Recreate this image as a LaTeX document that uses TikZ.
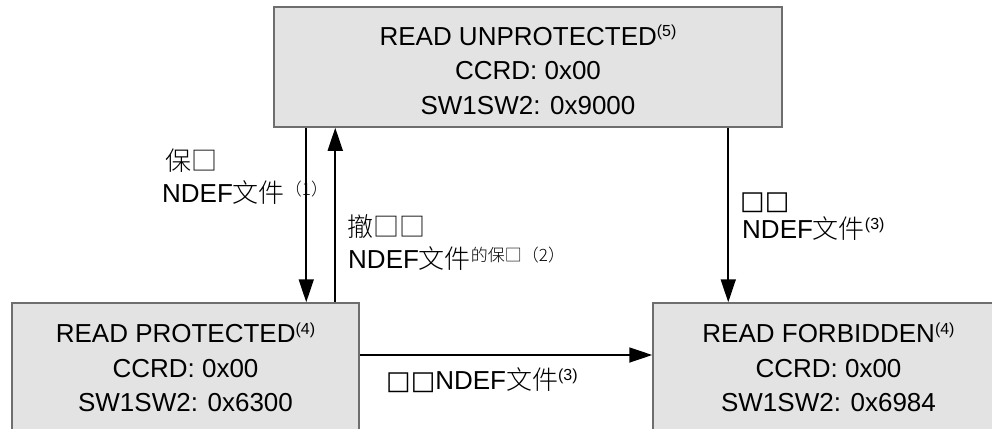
\documentclass[tikz,border=0pt]{standalone}
\usepackage{fontspec}
\setmainfont{Liberation Sans}
\newfontfamily\cjk{Noto Sans CJK SC Light}
\newfontfamily\dvs{DejaVu Sans}
\usetikzlibrary{arrows.meta}
\definecolor{boxgray}{HTML}{6E6E6E}
\definecolor{boxfill}{HTML}{E3E3E3}
\newcommand\supL[1]{\raisebox{8.5pt}{\fontsize{16}{16}\selectfont #1}}
\newcommand\supC[1]{\raisebox{7pt}{\fontsize{17}{17}\selectfont\cjk #1}}
\begin{document}
\begin{tikzpicture}[x=1pt,y=-1pt,
  statebox/.style={draw=boxgray, fill=boxfill, line width=1.5pt, inner sep=0pt,
    align=center, font=\fontsize{26}{34.5}\selectfont},
  conn/.style={line width=1.8pt, -{Triangle[length=23pt,width=15pt]}},
  lbl/.style={anchor=base west, inner sep=0pt, font=\fontsize{26}{32}\selectfont},
]
\useasboundingbox (0,0) rectangle (992,428);
\clip (0,0) rectangle (992,428);

\node[statebox, minimum width=508pt, minimum height=120pt] (top) at (528,67)
  {\rule{0pt}{26pt}READ UNPROTECTED\supL{(5)}\\CCRD: 0x00\\SW1SW2: 0x9000};
\node[statebox, minimum width=347pt, minimum height=129pt] (pl) at (185.5,367.5)
  {READ PROTECTED\supL{(4)}\\CCRD: 0x00\\SW1SW2: 0x6300};
\node[statebox, minimum width=351pt, minimum height=129pt] (pr) at (828.5,367.5)
  {READ FORBIDDEN\supL{(4)}\\CCRD: 0x00\\SW1SW2: 0x6984};

\draw[conn] ([xshift=33pt]top.south west) -- ([xshift=295pt]pl.north west);
\draw[conn] ([xshift=324pt]pl.north west) -- ([xshift=62pt]top.south west);
\draw[conn] ([xshift=455pt]top.south west) -- ([xshift=76pt]pr.north west);
\draw[conn] ([yshift=12.5pt]pl.east) -- ([yshift=12.5pt]pr.west);

\node[lbl] (l1a) at (165,170) {{\cjk 保□}};
\node[lbl] (l1b) at (162,202) {NDEF{\cjk 文件}\supC{（1）}};
\node[lbl] (l2a) at (347,236) {{\cjk 撤□□}};
\node[lbl] (l2b) at (348,268) {NDEF{\cjk 文件}\supC{的保□（2）}};
\node[lbl] (l3a) at (740,209) {{\dvs □□}};
\node[lbl] (l3b) at (742,238) {NDEF{\cjk 文件}\supL{(3)}};
\node[lbl] (l4) at (386,389) {{\dvs □□}NDEF{\cjk 文件}\supL{(3)}};
\end{tikzpicture}
\end{document}
